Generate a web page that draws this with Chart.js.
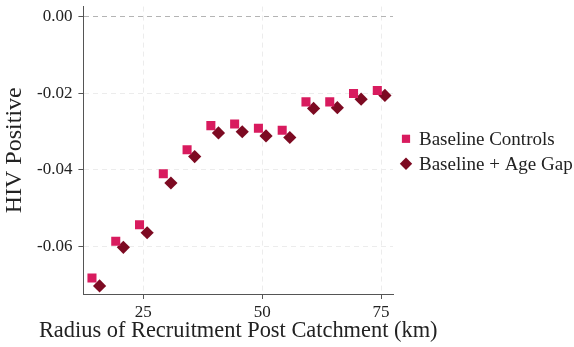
<!DOCTYPE html>
<html>
<head>
<meta charset="utf-8">
<script src="https://cdn.jsdelivr.net/npm/chart.js@4/dist/chart.umd.min.js"></script>
<style>
  html, body { margin: 0; padding: 0; background: #ffffff; }
  #wrap { width: 574px; height: 347px; }
</style>
</head>
<body>
<div id="wrap"><canvas id="c" width="574" height="347"></canvas></div>
<script>
const radii = [15, 20, 25, 30, 35, 40, 45, 50, 55, 60, 65, 70, 75];
const baselineControls = [-0.0683, -0.0587, -0.0544, -0.0411, -0.0348, -0.0285, -0.0281, -0.0292, -0.0297, -0.0223, -0.0223, -0.0201, -0.0193];
const baselineAgeGap = [-0.0704, -0.0603, -0.0565, -0.0435, -0.0366, -0.0304, -0.0301, -0.0312, -0.0316, -0.0240, -0.0238, -0.0216, -0.0206];
const seriesNames = ['Baseline Controls', 'Baseline + Age Gap'];
const xTicks = [25, 50, 75];
const yTicks = [-0.06, -0.04, -0.02, 0.00];
const xTitle = 'Radius of Recruitment Post Catchment (km)';
const yTitle = 'HIV Positive';
const offset = 0.8;

const FONT = '"Liberation Serif", "DejaVu Serif", serif';

const ds1 = radii.map((r, i) => ({ x: r - offset, y: baselineControls[i] }));
const ds2 = radii.map((r, i) => ({ x: r + offset, y: baselineAgeGap[i] }));

// Legend and x-axis title drawn beside the plot (built-in ones are width-capped by the layout)
const sideLegend = {
  id: 'sideLegend',
  afterDraw(chart) {
    const ctx = chart.ctx;
    const area = chart.chartArea;
    const mid = (area.top + area.bottom) / 2 + 1;
    const gap = 25;
    const x0 = area.right + 13;
    ctx.save();
    ctx.font = '19px ' + FONT;
    ctx.textBaseline = 'middle';
    ctx.textAlign = 'left';
    chart.data.datasets.forEach((ds, i) => {
      const y = mid + (i - (chart.data.datasets.length - 1) / 2) * gap;
      ctx.fillStyle = ds.backgroundColor;
      Chart.helpers.drawPoint(ctx, {
        pointStyle: ds.pointStyle,
        radius: ds.pointStyle === 'rect' ? 5.8 : 6.2,
        borderWidth: 0, rotation: 0
      }, x0, y);
      ctx.fillStyle = '#222';
      ctx.fillText(ds.label, x0 + 13, y + 1);
    });
    // x-axis title
    ctx.font = '22.4px ' + FONT;
    ctx.textAlign = 'center';
    ctx.textBaseline = 'middle';
    ctx.fillStyle = '#222';
    ctx.fillText(xTitle, (area.left + area.right) / 2, area.bottom + 37);
    ctx.restore();
  }
};

const noEdgePad = (s) => { s.paddingTop = 0; s.paddingBottom = 0; };

new Chart(document.getElementById('c'), {
  type: 'scatter',
  data: {
    datasets: [
      { label: seriesNames[0], data: ds1, pointStyle: 'rect', pointRadius: 6.4, pointHoverRadius: 6.4,
        backgroundColor: '#d81b5e', borderWidth: 0, borderColor: '#d81b5e' },
      { label: seriesNames[1], data: ds2, pointStyle: 'rectRot', pointRadius: 6.6, pointHoverRadius: 6.6,
        backgroundColor: '#7d0a22', borderWidth: 0, borderColor: '#7d0a22' }
    ]
  },
  plugins: [sideLegend],
  options: {
    responsive: false,
    animation: false,
    events: [],
    layout: { padding: { top: 5, right: 181, bottom: 21, left: 3 } },
    plugins: {
      tooltip: { enabled: false },
      legend: { display: false }
    },
    scales: {
      x: {
        type: 'linear',
        min: 12.4, max: 77.5,
        afterBuildTicks: (axis) => { axis.ticks = xTicks.map(v => ({ value: v })); },
        ticks: { color: '#222', font: { family: FONT, size: 17, lineHeight: 1.0 }, padding: 5, maxRotation: 0 },
        grid: { color: '#ececec', tickColor: '#555', tickLength: 5, tickBorderDash: [] },
        border: { color: '#555', width: 1, dash: [5, 4] },
        title: { display: false }
      },
      y: {
        type: 'linear',
        min: -0.0725, max: 0.0026,
        afterBuildTicks: (axis) => { axis.ticks = yTicks.map(v => ({ value: v })); },
        afterFit: noEdgePad,
        ticks: { color: '#222', font: { family: FONT, size: 17, lineHeight: 0.3 }, padding: 6,
                 callback: (v) => Number(v).toFixed(2) },
        grid: { color: (ctx) => (ctx.tick && Math.abs(ctx.tick.value) < 1e-9) ? '#b4b4b4' : '#ececec',
                tickColor: '#555', tickLength: 5, tickBorderDash: [] },
        border: { color: '#555', width: 1, dash: [5, 4] },
        title: { display: true, text: yTitle, color: '#222',
                 font: { family: FONT, size: 24, lineHeight: 1.0 }, padding: { top: 0, bottom: 4 } }
      }
    }
  }
});
</script>
</body>
</html>
